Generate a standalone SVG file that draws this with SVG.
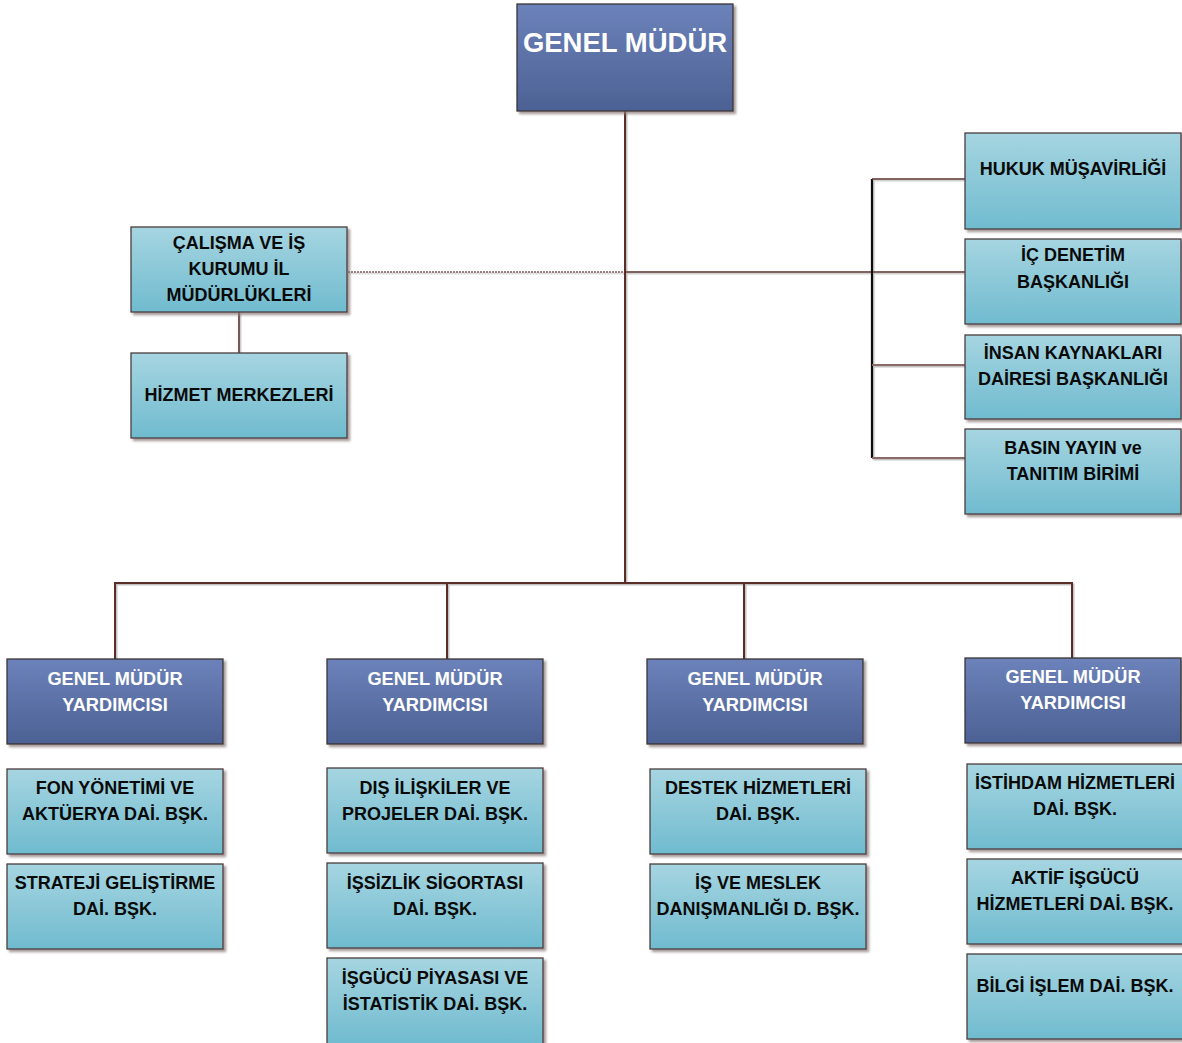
<svg xmlns="http://www.w3.org/2000/svg" width="1182" height="1043" viewBox="0 0 1182 1043">
<defs>
<linearGradient id="gDark" x1="0" y1="0" x2="0" y2="1">
<stop offset="0" stop-color="#6c82ba"/>
<stop offset="1" stop-color="#4c6194"/>
</linearGradient>
<linearGradient id="gLight" x1="0" y1="0" x2="0" y2="1">
<stop offset="0" stop-color="#a6d5e1"/>
<stop offset="1" stop-color="#70bbcf"/>
</linearGradient>
<filter id="sh" x="-5%" y="-5%" width="115%" height="115%">
<feDropShadow dx="2.5" dy="2.5" stdDeviation="0.8" flood-color="#8a7a78" flood-opacity="0.75"/>
</filter>
<filter id="lsh" x="-5%" y="-5%" width="110%" height="110%">
<feDropShadow dx="1.5" dy="1.5" stdDeviation="0.6" flood-color="#999" flood-opacity="0.6"/>
</filter>
</defs>
<style>
.dark{fill:url(#gDark);stroke:#3c3436;stroke-width:1.3;filter:url(#sh)}
.light{fill:url(#gLight);stroke:#4a3c3c;stroke-width:1.3;filter:url(#sh)}
text{font-family:"Liberation Sans",Arial,sans-serif;font-weight:bold;text-anchor:middle}
.tw{fill:#ffffff;font-size:18.2px}
.tb{fill:#0a0a0a;font-size:18px}
.title{fill:#ffffff;font-size:27.5px}
.ln{fill:none;stroke:#5a2e26;stroke-width:2}
.lnb{fill:none;stroke:#111;stroke-width:2.2}
.lnd{fill:none;stroke:#7a5a58;stroke-width:1.6;stroke-dasharray:2 1}
.lng{fill:none;stroke:#8a6a66;stroke-width:2}
</style>
<rect width="1182" height="1043" fill="#ffffff"/>

<g id="connectors" filter="url(#lsh)">
<line class="lnd" x1="348" y1="272" x2="625" y2="272"/>
<line class="ln" x1="625" y1="272" x2="965" y2="272" style="stroke-width:1.6"/>
<line class="ln" x1="625" y1="111" x2="625" y2="584"/>
<line class="lnb" x1="872" y1="179" x2="872" y2="458"/>
<line class="ln" x1="872" y1="179" x2="965" y2="179" style="stroke-width:1.6"/>
<line class="lng" x1="872" y1="365" x2="965" y2="365"/>
<line class="lng" x1="872" y1="458" x2="965" y2="458"/>
<line class="ln" x1="239" y1="312" x2="239" y2="353" style="stroke-width:1.6"/>
<polyline class="ln" points="115,659 115,583 1072,583 1072,658"/>
<line class="ln" x1="447" y1="583" x2="447" y2="659"/>
<line class="ln" x1="744" y1="583" x2="744" y2="659"/>
</g>

<g id="genel-mudur">
<rect class="dark" x="517" y="4" width="216" height="107"/>
<text class="title" x="625" y="52">GENEL MÜDÜR</text>
</g>

<g id="calisma-ve-is-kurumu">
<rect class="light" x="131" y="227" width="216" height="85"/>
<text class="tb" x="239" y="248.5">ÇALIŞMA VE İŞ</text>
<text class="tb" x="239" y="274.5">KURUMU İL</text>
<text class="tb" x="239" y="300.5">MÜDÜRLÜKLERİ</text>
</g>
<g id="hizmet-merkezleri">
<rect class="light" x="131" y="353" width="216" height="85"/>
<text class="tb" x="239" y="400.5">HİZMET MERKEZLERİ</text>
</g>

<g id="hukuk">
<rect class="light" x="965" y="133" width="216" height="96"/>
<text class="tb" x="1073" y="174.5">HUKUK MÜŞAVİRLİĞİ</text>
</g>
<g id="ic-denetim">
<rect class="light" x="965" y="239" width="216" height="85"/>
<text class="tb" x="1073" y="261">İÇ DENETİM</text>
<text class="tb" x="1073" y="287.5">BAŞKANLIĞI</text>
</g>
<g id="insan-kaynaklari">
<rect class="light" x="965" y="335" width="216" height="84"/>
<text class="tb" x="1073" y="358.5">İNSAN KAYNAKLARI</text>
<text class="tb" x="1073" y="385">DAİRESİ BAŞKANLIĞI</text>
</g>
<g id="basin-yayin">
<rect class="light" x="965" y="429" width="216" height="85"/>
<text class="tb" x="1073" y="453.5">BASIN YAYIN ve</text>
<text class="tb" x="1073" y="480">TANITIM BİRİMİ</text>
</g>

<g id="gmy-1">
<rect class="dark" x="7" y="659" width="216" height="85"/>
<text class="tw" x="115" y="684.5">GENEL MÜDÜR</text>
<text class="tw" x="115" y="710.5">YARDIMCISI</text>
</g>
<g id="gmy-2">
<rect class="dark" x="327" y="659" width="216" height="85"/>
<text class="tw" x="435" y="684.5">GENEL MÜDÜR</text>
<text class="tw" x="435" y="710.5">YARDIMCISI</text>
</g>
<g id="gmy-3">
<rect class="dark" x="647" y="659" width="216" height="85"/>
<text class="tw" x="755" y="684.5">GENEL MÜDÜR</text>
<text class="tw" x="755" y="710.5">YARDIMCISI</text>
</g>
<g id="gmy-4">
<rect class="dark" x="965" y="658" width="216" height="85"/>
<text class="tw" x="1073" y="682.5">GENEL MÜDÜR</text>
<text class="tw" x="1073" y="708.5">YARDIMCISI</text>
</g>

<g id="fon-yonetimi">
<rect class="light" x="7" y="769" width="216" height="85"/>
<text class="tb" x="115" y="793.5">FON YÖNETİMİ VE</text>
<text class="tb" x="115" y="819.5">AKTÜERYA DAİ. BŞK.</text>
</g>
<g id="strateji">
<rect class="light" x="7" y="864" width="216" height="85"/>
<text class="tb" x="115" y="888.5">STRATEJİ GELİŞTİRME</text>
<text class="tb" x="115" y="914.5">DAİ. BŞK.</text>
</g>

<g id="dis-iliskiler">
<rect class="light" x="327" y="768" width="216" height="85"/>
<text class="tb" x="435" y="793.5">DIŞ İLİŞKİLER VE</text>
<text class="tb" x="435" y="819.5">PROJELER DAİ. BŞK.</text>
</g>
<g id="issizlik">
<rect class="light" x="327" y="863" width="216" height="85"/>
<text class="tb" x="435" y="888.5">İŞSİZLİK SİGORTASI</text>
<text class="tb" x="435" y="914.5">DAİ. BŞK.</text>
</g>
<g id="isgucu-piyasasi">
<rect class="light" x="327" y="958" width="216" height="86"/>
<text class="tb" x="435" y="983.5">İŞGÜCÜ PİYASASI VE</text>
<text class="tb" x="435" y="1009.5">İSTATİSTİK DAİ. BŞK.</text>
</g>

<g id="destek">
<rect class="light" x="650" y="769" width="216" height="85"/>
<text class="tb" x="758" y="793.5">DESTEK HİZMETLERİ</text>
<text class="tb" x="758" y="819.5">DAİ. BŞK.</text>
</g>
<g id="is-ve-meslek">
<rect class="light" x="650" y="864" width="216" height="85"/>
<text class="tb" x="758" y="888.5">İŞ VE MESLEK</text>
<text class="tb" x="758" y="914.5">DANIŞMANLIĞI D. BŞK.</text>
</g>

<g id="istihdam">
<rect class="light" x="967" y="764" width="216" height="85"/>
<text class="tb" x="1075" y="788.5">İSTİHDAM HİZMETLERİ</text>
<text class="tb" x="1075" y="814.5">DAİ. BŞK.</text>
</g>
<g id="aktif-isgucu">
<rect class="light" x="967" y="859" width="216" height="85"/>
<text class="tb" x="1075" y="883.5">AKTİF İŞGÜCÜ</text>
<text class="tb" x="1075" y="909.5">HİZMETLERİ DAİ. BŞK.</text>
</g>
<g id="bilgi-islem">
<rect class="light" x="967" y="954" width="216" height="85"/>
<text class="tb" x="1075" y="991.5">BİLGİ İŞLEM DAİ. BŞK.</text>
</g>
</svg>
